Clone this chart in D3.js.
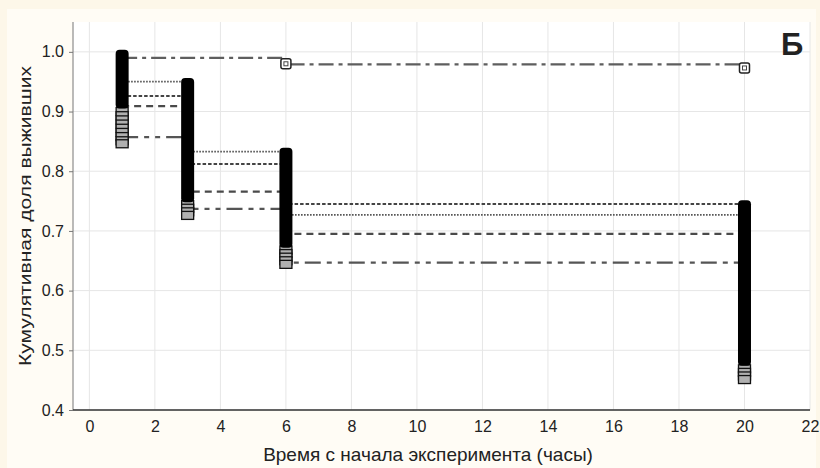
<!DOCTYPE html>
<html>
<head>
<meta charset="utf-8">
<script src="https://cdn.jsdelivr.net/npm/d3@7"></script>
<style>
  html, body { margin: 0; padding: 0; background: #fdf7e9; }
  svg { display: block; }
  text { font-family: "Liberation Sans", Arial, sans-serif; fill: #222; }
</style>
</head>
<body>
<svg id="chart" width="820" height="468"></svg>
<script>
// ---- data ----
const xTicks = [0, 2, 4, 6, 8, 10, 12, 14, 16, 18, 20, 22];
const yTicks = [0.4, 0.5, 0.6, 0.7, 0.8, 0.9, 1.0];
const stepTimes = [1, 3, 6, 20];
// survival level on each interval (1-3, 3-6, 6-20)
const seriesA = [0.990, 0.990, 0.979];
const seriesB = [0.950, 0.833, 0.727];
const seriesC = [0.926, 0.812, 0.745];
const seriesD = [0.909, 0.766, 0.695];
const seriesE = [0.857, 0.737, 0.647];
// open markers of series A
const markA_t = [6, 20];
const markA_v = [0.980, 0.973];
// dense censoring columns
const colTimes = [1, 3, 6, 20];
const colTop = [1.000, 0.953, 0.836, 0.748];
const colSolidLow = [0.905, 0.748, 0.672, 0.474];
const colSquares = [
  [0.900, 0.893, 0.886, 0.879, 0.872, 0.865, 0.858, 0.851, 0.846],
  [0.744, 0.738, 0.732, 0.726],
  [0.668, 0.662, 0.656, 0.650, 0.644],
  [0.469, 0.463, 0.457, 0.451]
];
const xTitle = "Время с начала эксперимента (часы)";
const yTitle = "Кумулятивная доля выживших";
const panelLetter = "Б";

// ---- layout ----
const svg = d3.select("#chart");
const W = 820, H = 468;
const L = 73, R = 810, T = 22, B = 410;

svg.append("rect").attr("x", 0).attr("y", 0).attr("width", W).attr("height", H).attr("fill", "#fdf7e9");
svg.append("rect").attr("x", 7).attr("y", 9).attr("width", 809).attr("height", 459).attr("fill", "#fffcf5");
svg.append("rect").attr("x", L).attr("y", T).attr("width", R - L).attr("height", B - T).attr("fill", "#ffffff");

const x = d3.scaleLinear().domain([-0.5, 22]).range([L, R]);
const y = d3.scaleLinear().domain([0.4, 1.05]).range([B, T]);

// grid
svg.append("g").selectAll("line").data(xTicks).join("line")
  .attr("x1", d => x(d)).attr("x2", d => x(d)).attr("y1", T).attr("y2", B)
  .attr("stroke", "#e6e6e6").attr("stroke-width", 1);
svg.append("g").selectAll("line").data(yTicks).join("line")
  .attr("x1", L).attr("x2", R).attr("y1", d => y(d)).attr("y2", d => y(d))
  .attr("stroke", "#e6e6e6").attr("stroke-width", 1);

// axes
const yAxis = svg.append("g").attr("transform", `translate(${L},0)`)
  .call(d3.axisLeft(y).tickValues(yTicks).tickFormat(d3.format(".1f")).tickSize(4).tickPadding(5));
yAxis.select(".domain").attr("stroke", "#777").attr("d", `M0,${T}V${B}`);
yAxis.selectAll(".tick line").attr("stroke", "#777");
yAxis.selectAll(".tick text").attr("font-size", 16).attr("fill", "#3a3a3a")
  .attr("font-family", "Liberation Sans, Arial, sans-serif");

const xAxis = svg.append("g").attr("transform", `translate(0,${B})`)
  .call(d3.axisBottom(x).tickValues(xTicks).tickFormat(d3.format("d")).tickSize(0).tickPadding(11));
xAxis.select(".domain").attr("stroke", "#333").attr("stroke-width", 1.5).attr("d", `M${L},0H${R}`);
xAxis.selectAll(".tick text").attr("font-size", 16).attr("fill", "#3a3a3a")
  .attr("font-family", "Liberation Sans, Arial, sans-serif");

// step lines
function stepPts(vals) {
  const pts = [];
  for (let i = 0; i < vals.length; i++) {
    pts.push([stepTimes[i], vals[i]]);
    pts.push([stepTimes[i + 1], vals[i]]);
  }
  return pts;
}
const line = d3.line().x(d => x(d[0])).y(d => y(d[1]));
const seriesDefs = [
  { vals: seriesA, dash: "15,5,4,5", w: 2.3, c: "#5e5e5e" },
  { vals: seriesB, dash: "1.6,1.4", w: 1.8, c: "#555" },
  { vals: seriesC, dash: "3.5,2", w: 2, c: "#444" },
  { vals: seriesD, dash: "7,5", w: 2.2, c: "#4a4a4a" },
  { vals: seriesE, dash: "16,6,5,6,5,6", w: 2.2, c: "#555" }
];
svg.append("g").selectAll("path").data(seriesDefs).join("path")
  .attr("d", d => line(stepPts(d.vals)))
  .attr("fill", "none").attr("stroke", d => d.c).attr("stroke-width", d => d.w)
  .attr("stroke-dasharray", d => d.dash);

// open markers for series A
const mA = svg.append("g").selectAll("g").data(markA_t.map((t, i) => [t, markA_v[i]])).join("g")
  .attr("transform", d => `translate(${x(d[0])},${y(d[1])})`);
mA.append("rect").attr("x", -5).attr("y", -5).attr("width", 10).attr("height", 10).attr("rx", 2)
  .attr("fill", "#fff").attr("stroke", "#222").attr("stroke-width", 1.5);
mA.append("rect").attr("x", -2).attr("y", -2).attr("width", 4).attr("height", 4)
  .attr("fill", "none").attr("stroke", "#444").attr("stroke-width", 1);

// censoring columns
const cols = svg.append("g");
colTimes.forEach((t, i) => {
  const cx = x(t);
  const g = cols.append("g");
  colSquares[i].forEach(v => {
    g.append("rect").attr("x", cx - 6).attr("y", y(v) - 4).attr("width", 12).attr("height", 8)
      .attr("fill", "#b0b0b0").attr("stroke", "#111").attr("stroke-width", 1.3);
  });
  g.append("rect").attr("x", cx - 6.5).attr("y", y(colTop[i]) - 2)
    .attr("width", 13).attr("height", y(colSolidLow[i]) - y(colTop[i]) + 2).attr("rx", 4)
    .attr("fill", "#000");
});

// titles
svg.append("text").attr("x", 428).attr("y", 461).attr("text-anchor", "middle")
  .attr("font-size", 19).attr("fill", "#222").text(xTitle);
svg.append("text").attr("transform", `translate(31,216) rotate(-90)`).attr("text-anchor", "middle")
  .attr("font-size", 17).attr("fill", "#222")
  .attr("textLength", 300).attr("lengthAdjust", "spacingAndGlyphs").text(yTitle);
svg.append("text").attr("x", 781).attr("y", 55).attr("font-size", 31).attr("font-weight", "bold")
  .attr("fill", "#000").text(panelLetter);
</script>
</body>
</html>
